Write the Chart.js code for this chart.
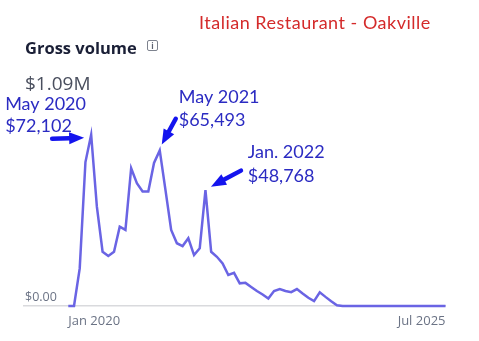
<!DOCTYPE html>
<html>
<head>
<meta charset="utf-8">
<script src="https://cdn.jsdelivr.net/npm/chart.js@4/dist/chart.umd.min.js"></script>
<style>
  html, body { margin: 0; padding: 0; background: #fff; overflow: hidden; }
  #wrap { position: relative; width: 479px; height: 341px; }
  #chart { position: absolute; left: 0; top: 0; }
  .txt { position: absolute; white-space: nowrap; line-height: 1; }
  #store { left: 199px; top: 11px; font: 18px Lato, sans-serif; letter-spacing: 0.5px; color: #d42a2a; }
  #gv-title { left: 25px; top: 36px; font: bold 16.5px "Open Sans", sans-serif; color: #1a1f36; }
  #gv-info { position: absolute; left: 147px; top: 40px; width: 9px; height: 9px; border: 1px solid #7d828e;
    border-radius: 2px; font: bold 8px "Open Sans", sans-serif; color: #5d6270; text-align: center; line-height: 9px; }
  #gv-total { left: 25px; top: 70px; font: 19px "Open Sans", sans-serif; color: #4a4f5e; }
</style>
</head>
<body>
<div id="wrap">
  <canvas id="chart" width="479" height="341"></canvas>
  <div class="txt" id="store">Italian Restaurant - Oakville</div>
  <div class="txt" id="gv-title">Gross volume</div>
  <div id="gv-info">i</div>
  <div class="txt" id="gv-total"></div>
</div>
<script>
// === Monthly gross volume, Jan 2020 .. Jul 2025 (one value per month) ===
var volumes = [
  0, 0, 15800, 60600, 72102, 41800, 22800, 21000, 22800, 33400,
  32000, 58000, 51700, 48200, 48200, 60200, 65493, 48900, 32000, 26400,
  25200, 28500, 21400, 24300, 48768, 22800, 20700, 17900, 13000, 13900,
  9500, 9700, 8000, 6300, 4800, 3100, 6300, 7100, 6300, 5800,
  7100, 5200, 3400, 2000, 5700, 3800, 2000, 300, 0, 0,
  0, 0, 0, 0, 0, 0, 0, 0, 0, 0,
  0, 0, 0, 0, 0, 0, 0
];

// only the first and last month are labelled
var xTickIndex = [0, 66];
var xTickLabels = ['Jan 2020', 'Jul 2025'];

// highlighted peaks
var peakIndex = [4, 16, 24];
var peakLabels = ['May 2020', 'May 2021', 'Jan. 2022'];

function fmtMoney(v) {
  return '$' + v.toLocaleString('en-US');
}

var total = volumes.reduce(function(a, b) { return a + b; }, 0);
document.getElementById('gv-total').textContent = '$' + (total / 1e6).toFixed(2) + 'M';

// where each note's text and arrow sit, relative to its peak (px)
var noteLayout = [
  { tx: -86, ty1: -25, ty2: -3, ax1: -39, ay1: 4, ax2: -7, ay2: 3 },
  { tx: 19, ty1: -47.4, ty2: -24.7, ax1: 16, ay1: -31.7, ax2: 2, ay2: -6 },
  { tx: 42.3, ty1: -32, ty2: -8.6, ax1: 35.5, ay1: -19.5, ax2: 5.5, ay2: -3.5 }
];

function drawArrow(ctx, x1, y1, x2, y2) {
  var ang = Math.atan2(y2 - y1, x2 - x1);
  var headLen = 15, headHalf = 6;
  var bx = x2 - headLen * Math.cos(ang), by = y2 - headLen * Math.sin(ang);
  ctx.strokeStyle = '#1414ee';
  ctx.fillStyle = '#1414ee';
  ctx.lineWidth = 4.5;
  ctx.lineCap = 'round';
  ctx.beginPath();
  ctx.moveTo(x1, y1);
  ctx.lineTo(bx, by);
  ctx.stroke();
  ctx.beginPath();
  ctx.moveTo(x2, y2);
  ctx.lineTo(bx + headHalf * Math.sin(ang), by - headHalf * Math.cos(ang));
  ctx.lineTo(bx - headHalf * Math.sin(ang), by + headHalf * Math.cos(ang));
  ctx.closePath();
  ctx.fill();
}

var peakNotes = {
  id: 'peakNotes',
  afterDatasetsDraw: function(chart) {
    var ctx = chart.ctx;
    var xs = chart.scales.x, ys = chart.scales.y;
    ctx.save();
    peakIndex.forEach(function(idx, i) {
      var px = xs.getPixelForValue(idx);
      var py = ys.getPixelForValue(volumes[idx]);
      var l = noteLayout[i];
      ctx.font = '18px Lato, sans-serif';
      ctx.fillStyle = '#2b2bc2';
      ctx.textAlign = 'left';
      ctx.textBaseline = 'alphabetic';
      ctx.fillText(peakLabels[i], px + l.tx, py + l.ty1);
      ctx.fillText(fmtMoney(volumes[idx]), px + l.tx, py + l.ty2);
      drawArrow(ctx, px + l.ax1, py + l.ay1, px + l.ax2, py + l.ay2);
    });
    ctx.restore();
  }
};

var ctx = document.getElementById('chart').getContext('2d');
new Chart(ctx, {
  type: 'line',
  data: {
    datasets: [{
      data: volumes.map(function(v, i) { return { x: i, y: v }; }),
      borderColor: '#6a64e4',
      borderWidth: 2.5,
      pointRadius: 0,
      tension: 0,
      clip: false
    }]
  },
  options: {
    responsive: false,
    animation: false,
    layout: { padding: { left: 22, right: 33.5, top: 116, bottom: 3.5 } },
    plugins: {
      legend: { display: false },
      tooltip: { enabled: false }
    },
    scales: {
      x: {
        type: 'linear',
        min: -7.75,
        max: 66,
        afterBuildTicks: function(axis) {
          axis.ticks = xTickIndex.map(function(v) { return { value: v }; });
        },
        grid: { display: false, drawTicks: false },
        border: { display: true, color: '#d9dadd', width: 1.5 },
        ticks: {
          align: 'inner',
          padding: 8,
          maxRotation: 0,
          color: '#6b7385',
          font: { family: 'Open Sans', size: 13 },
          callback: function(v) {
            var k = xTickIndex.indexOf(v);
            return k >= 0 ? xTickLabels[k] : '';
          }
        }
      },
      y: {
        min: 0,
        max: 80000,
        afterBuildTicks: function(axis) {
          axis.ticks = [{ value: 0 }];
        },
        grid: { display: false, drawTicks: false },
        border: { display: false },
        ticks: {
          mirror: true,
          padding: 1,
          labelOffset: -8,
          color: '#6b7385',
          font: { family: 'Open Sans', size: 12.5 },
          callback: function(v) { return '$' + v.toFixed(2); }
        }
      }
    }
  },
  plugins: [peakNotes]
});
</script>
</body>
</html>
